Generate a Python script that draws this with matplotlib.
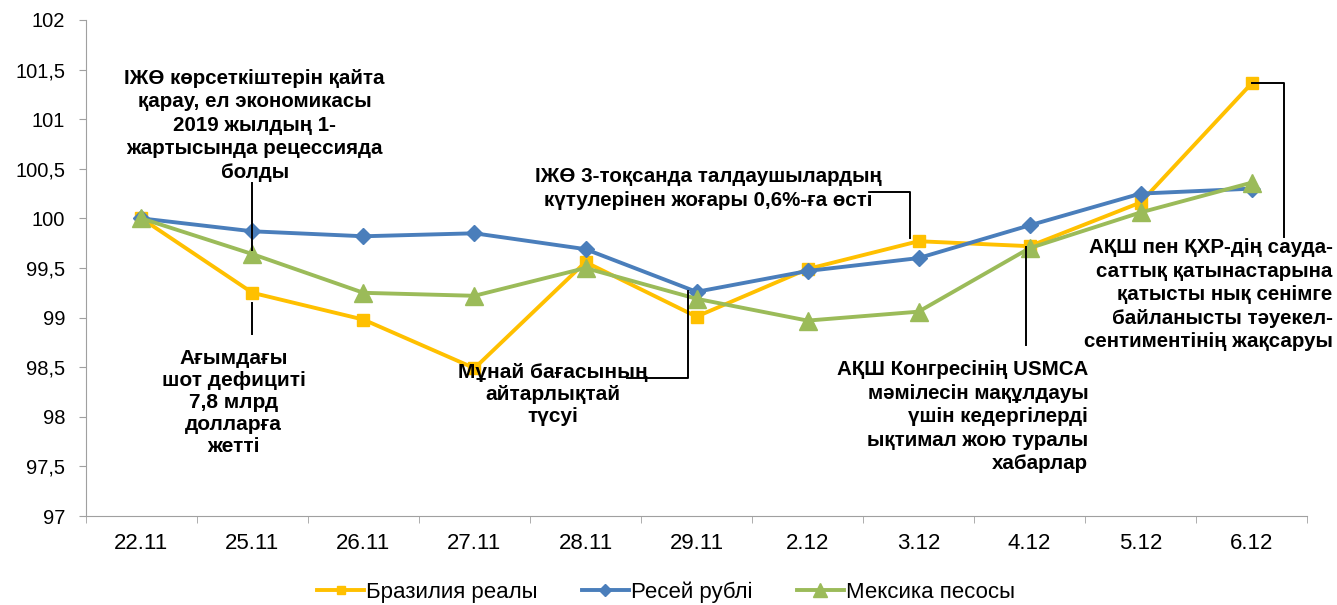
import matplotlib.pyplot as plt
import numpy as np
from matplotlib.ticker import FuncFormatter, MultipleLocator

dates = ["22.11", "25.11", "26.11", "27.11", "28.11", "29.11",
         "2.12", "3.12", "4.12", "5.12", "6.12"]
brazil = [100.0, 99.25, 98.98, 98.49, 99.56, 99.01, 99.49, 99.77, 99.72, 100.16, 101.36]
russia = [100.0, 99.87, 99.82, 99.85, 99.69, 99.26, 99.47, 99.60, 99.93, 100.25, 100.30]
mexico = [100.0, 99.64, 99.25, 99.22, 99.50, 99.19, 98.97, 99.06, 99.70, 100.06, 100.36]
names = ["Бразилия реалы", "Ресей рублі", "Мексика песосы"]

plt.rcParams['font.family'] = ['Liberation Sans', 'DejaVu Sans']

fig = plt.figure(figsize=(13.37, 6.05), dpi=100)
ax = fig.add_axes([0.0643, 0.147, 0.9133, 0.820])
x = np.arange(len(dates))

ax.plot(x, brazil, color="#FFC000", lw=2.8, marker="s", ms=8.5, label=names[0], zorder=3)
ax.plot(x, russia, color="#4A7EBB", lw=2.8, marker="D", ms=8.5, label=names[1], zorder=3)
ax.plot(x, mexico, color="#9BBB59", lw=2.8, marker="^", ms=13, label=names[2], zorder=4)

ax.set_xlim(-0.5, 10.5)
ax.set_ylim(97, 102)
ax.yaxis.set_major_locator(MultipleLocator(0.5))
ax.yaxis.set_major_formatter(FuncFormatter(lambda v, p: ("%g" % v).replace(".", ",")))
ax.set_xticks(x)
ax.set_xticklabels(dates)
ax.set_xticks(np.arange(-0.5, 11, 1), minor=True)
ax.tick_params(axis="x", which="major", length=0, pad=12, labelsize=16)
ax.tick_params(axis="x", which="minor", length=5, color="#A0A0A0", direction="out")
ax.tick_params(axis="y", length=5, color="#A0A0A0", labelsize=14.5, pad=10)
for s in ["top", "right"]:
    ax.spines[s].set_visible(False)
for s in ["left", "bottom"]:
    ax.spines[s].set_color("#A0A0A0")

bold = dict(fontsize=14.8, fontweight="bold", linespacing=1.3, color="black")
narrow = dict(fontsize=15, fontweight="bold", linespacing=1.2, color="black",
              family=['Liberation Sans Narrow', 'Liberation Sans'])
lk = dict(color="black", lw=1.4, clip_on=False, zorder=5)

ax.text(1.02, 100.94, "ІЖӨ көрсеткіштерін қайта\nқарау, ел экономикасы\n2019 жылдың 1-\nжартысында рецессияда\nболды",
        ha="center", va="center", **bold)
ax.plot([1, 1], [100.36, 99.68], **lk)

ax.text(0.83, 98.14, "Ағымдағы\nшот дефициті\n7,8 млрд\nдолларға\nжетті",
        ha="center", va="center", **narrow)
ax.plot([1, 1], [99.15, 98.84], **lk)

ax.text(3.71, 98.23, "Мұнай бағасының\nайтарлықтай\nтүсуі", ha="center", va="center", **narrow)
ax.plot([4.37, 4.92, 4.92], [98.39, 98.39, 99.27], **lk)

ax.text(5.11, 100.30, "ІЖӨ 3-тоқсанда талдаушылардың\nкүтулерінен жоғары 0,6%-ға өсті",
        ha="center", va="center", **bold)
ax.plot([6.58, 6.92, 6.92], [100.27, 100.27, 99.80], **lk)

ax.text(8.53, 98.0, "АҚШ Конгресінің USMCA\nмәмілесін мақұлдауы\nүшін кедергілерді\nықтимал жою туралы\nхабарлар",
        ha="right", va="center", **bold)
ax.plot([7.97, 7.97], [99.71, 98.72], **lk)

ax.text(10.73, 99.23, "АҚШ пен ҚХР-дің сауда-\nсаттық қатынастарына\nқатысты нық сенімге\nбайланысты тәуекел-\nсентиментінің жақсаруы",
        ha="right", va="center", clip_on=False, **bold)
ax.plot([10, 10.29, 10.29], [brazil[10], brazil[10], 99.81], **lk)

ax.legend(loc="center", bbox_to_anchor=(0.475, -0.153), ncol=3, frameon=False,
          fontsize=16, handlelength=2.1, columnspacing=2.0, handletextpad=0.1,
          markerscale=0.75)

fig.savefig("out.png", dpi=100)
